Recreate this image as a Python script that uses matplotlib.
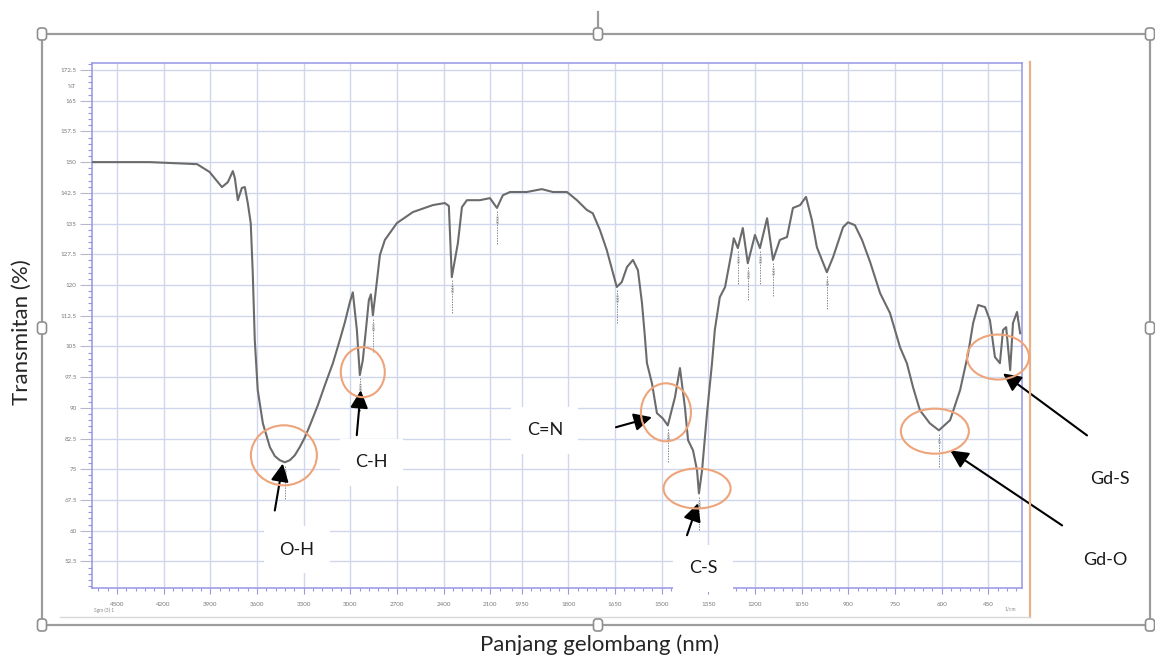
import numpy as np
import matplotlib
matplotlib.use("Agg")
import matplotlib.pyplot as plt
from matplotlib.lines import Line2D
from matplotlib.patches import Ellipse, FancyBboxPatch
from matplotlib.transforms import IdentityTransform
from matplotlib.ticker import FixedLocator, FixedFormatter

plt.rcParams['font.family'] = ['Lato', 'DejaVu Sans']

# ---- FTIR spectrum (wavenumber in 1/cm, transmittance in %) ----
wavenumber = [4660, 4290, 3985, 3905, 3825, 3787, 3755, 3742, 3723, 3697,
              3678, 3659, 3640, 3627, 3614, 3595, 3562, 3517, 3485, 3453,
              3421, 3389, 3357, 3325, 3292, 3260, 3209, 3164, 3112, 3068,
              3035, 3003, 2984, 2958, 2939, 2920, 2900, 2881, 2868, 2855,
              2836, 2810, 2778, 2701, 2598, 2470, 2393, 2367, 2348, 2328,
              2309, 2283, 2251, 2168, 2103, 2058, 2020, 1987, 1933, 1885,
              1849, 1804, 1772, 1740, 1721, 1698, 1676, 1656, 1644, 1628,
              1611, 1592, 1576, 1563, 1554, 1547, 1531, 1515, 1496, 1480,
              1457, 1441, 1425, 1415, 1399, 1386, 1380, 1370, 1354, 1338,
              1329, 1313, 1296, 1274, 1268, 1255, 1239, 1223, 1200, 1184,
              1161, 1142, 1120, 1097, 1078, 1055, 1036, 1017, 1001, 969,
              949, 917, 901, 879, 856, 830, 798, 766, 734, 712,
              692, 670, 638, 609, 573, 541, 515, 499, 483, 461,
              445, 429, 413, 403, 393, 380, 371, 358, 348]
transmittance = [150.0, 150.0, 149.5, 147.6, 143.9, 145.1, 147.8, 146.1, 140.7, 143.7,
                 143.9, 140.0, 135.1, 122.9, 106.5, 94.3, 86.2, 80.4, 78.2, 77.2,
                 76.7, 77.2, 78.4, 80.4, 82.8, 85.7, 90.6, 95.5, 100.9, 106.5,
                 110.9, 115.8, 118.2, 109.0, 98.0, 101.6, 109.0, 116.3, 117.7, 112.6,
                 118.7, 127.3, 131.0, 135.1, 137.8, 139.5, 140.0, 139.3, 121.9, 126.1,
                 130.2, 139.0, 140.7, 140.7, 141.2, 138.8, 141.9, 142.7, 142.7, 143.4,
                 142.7, 142.7, 140.7, 138.3, 137.5, 133.4, 128.5, 122.9, 119.5, 120.7,
                 124.4, 126.1, 123.6, 115.6, 107.7, 100.9, 96.0, 88.7, 87.4, 85.7,
                 92.6, 99.7, 90.1, 82.1, 79.6, 74.7, 69.1, 74.7, 88.7, 100.9,
                 109.0, 117.0, 119.5, 128.5, 131.4, 129.0, 133.9, 125.3, 132.2, 129.0,
                 136.3, 126.1, 131.0, 131.7, 138.8, 139.5, 141.5, 135.8, 129.2, 123.1,
                 126.8, 134.1, 135.3, 134.6, 131.0, 125.6, 118.0, 113.1, 104.8, 100.9,
                 95.0, 89.4, 86.2, 84.5, 87.0, 94.3, 103.3, 110.7, 115.1, 114.6,
                 111.4, 102.4, 100.9, 109.0, 109.7, 99.2, 110.7, 113.4, 108.2]

x_ticks = [4500, 4200, 3900, 3600, 3300, 3000, 2700, 2400, 2100, 1950,
           1800, 1650, 1500, 1350, 1200, 1050, 900, 750, 600, 450]
y_ticks = [172.5, 165, 157.5, 150, 142.5, 135, 127.5, 120, 112.5,
           105, 97.5, 90, 82.5, 75, 67.5, 60, 52.5]

# picked peaks (1/cm)
peak_wn = [3421, 2939, 2855, 2348, 2058, 1644, 1480, 1380, 1255, 1223,
           1184, 1142, 969, 609]

# band assignments: arrow tip and ring centre (wavenumber, %T)
band_labels = ["O-H", "C-H", "C=N", "C-S", "Gd-O", "Gd-S"]
band_tip_wn = [3434, 2933, 1531, 1383, 573, 403]
band_tip_t = [76.4, 94.3, 87.7, 66.7, 79.6, 98.4]
ring_wn = [3427, 2920, 1486, 1386, 622, 419]
ring_t = [78.4, 98.7, 88.9, 70.3, 84.3, 102.4]

# layout / style for the annotations (pixels)
ring_size = [(66, 60), (44, 50), (50, 58), (67, 40), (68, 45), (62, 45)]
tail_off = [(-8, -47), (-4, -45), (-36, -10), (-11, -32), (112, -75), (84, -62)]
label_off = [(14, -86), (11, -72), (-107, -13), (5, -65), (155, -110), (107, -106)]

W, H = 1155, 660
fig = plt.figure(figsize=(W / 100, H / 100), dpi=100)
fig.patch.set_facecolor('white')


def fp(x, y):
    return (x / W, 1 - y / H)


ax_l, ax_r, ax_t, ax_b = 92, 1021.7, 63, 588
ax = fig.add_axes([ax_l / W, 1 - ax_b / H, (ax_r - ax_l) / W, (ax_b - ax_t) / H])


# Shimadzu-style axis: 2x expansion below 2000 1/cm
def fwd(w):
    w = np.asarray(w, dtype=float)
    return np.where(w > 2000, 2000 + (w - 2000) / 2.0, w)


def inv(u):
    u = np.asarray(u, dtype=float)
    return np.where(u > 2000, 2000 + (u - 2000) * 2.0, u)


ax.set_xscale('function', functions=(fwd, inv))
ax.set_xlim(4660, 343)
ax.set_ylim(46.0, 174.2)

grid_c = '#d0d7ec'
axis_c = '#9696e4'
ax.xaxis.set_major_locator(FixedLocator(x_ticks))
ax.xaxis.set_major_formatter(FixedFormatter([str(v) for v in x_ticks]))
x_minor = list(np.arange(2040, 4660, 60)) + list(np.arange(360, 2000, 30))
ax.xaxis.set_minor_locator(FixedLocator(x_minor))
ax.yaxis.set_major_locator(FixedLocator(y_ticks))
ax.yaxis.set_major_formatter(FixedFormatter(['{:g}'.format(v) for v in y_ticks]))
ax.yaxis.set_minor_locator(FixedLocator(list(np.arange(46.5, 174.2, 1.5))))

ax.grid(True, which='major', color=grid_c, lw=1.0, zorder=0)
ax.set_axisbelow(True)
for s in ax.spines.values():
    s.set_color(axis_c)
    s.set_linewidth(1.1)

ax.tick_params(axis='x', which='major', direction='out', length=4, width=0.8,
               color=axis_c, labelsize=4.5, labelcolor='#7a7a7a', pad=6)
ax.tick_params(axis='x', which='minor', direction='out', length=2.5, width=0.8,
               color=axis_c)
ax.tick_params(axis='y', which='major', direction='out', length=9, width=0.8,
               color='#b8b8cc', labelsize=4.5, labelcolor='#7a7a7a', pad=2)
ax.tick_params(axis='y', which='minor', direction='out', length=3, width=0.8,
               color=axis_c)

# spectrum
ax.plot(wavenumber, transmittance, color='#6b6b6b', lw=1.5, zorder=3,
        solid_joinstyle='round')

# peak pick markers
wn_asc = np.array(wavenumber[::-1], dtype=float)
t_asc = np.array(transmittance[::-1], dtype=float)
for p in peak_wn:
    tv = float(np.interp(p, wn_asc, t_asc))
    ax.plot([p, p], [tv - 0.8, tv - 9.0], color='#8a8a8a', lw=0.7,
            ls=(0, (1.5, 1.2)), zorder=2)
    ax.text(p, tv - 1.5, str(p), rotation=90, fontsize=2.6, color='#808080',
            ha='left', va='top', zorder=2)

# axis unit inside tick label column
fig.text(*fp(76, 87), '%T', fontsize=4.2, color='#7a7a7a', ha='right', va='center')
fig.text(*fp(94, 610), 'Sgm (3) 1', fontsize=3.5, color='#8a8a8a', ha='left', va='center')
fig.text(*fp(1016, 609), '1/cm', fontsize=3.5, color='#8a8a8a', ha='right', va='center')

# band assignment rings, arrows and labels
ring_c = '#eea47a'
for i, lab in enumerate(band_labels):
    cx, cy = ax.transData.transform((ring_wn[i], ring_t[i]))
    fig.add_artist(Ellipse((cx, cy), ring_size[i][0], ring_size[i][1],
                           transform=IdentityTransform(), fill=False,
                           ec=ring_c, lw=1.5, zorder=6))
    ax.annotate('', xy=(band_tip_wn[i], band_tip_t[i]), xycoords='data',
                xytext=tail_off[i], textcoords='offset pixels',
                arrowprops=dict(arrowstyle='-|>,head_length=0.9,head_width=0.45',
                                color='black', lw=1.5, shrinkA=0, shrinkB=0,
                                mutation_scale=12),
                annotation_clip=False, zorder=7)
    ax.annotate(lab, xy=(band_tip_wn[i], band_tip_t[i]), xycoords='data',
                xytext=label_off[i], textcoords='offset pixels',
                ha='center', va='center', fontsize=13, color='#1a1a1a',
                bbox=dict(boxstyle='square,pad=0.85', fc='white', ec='none'),
                annotation_clip=False, zorder=5)

# screenshot edges
fig.add_artist(Line2D([1030 / W] * 2, [1 - 62 / H, 1 - 617 / H],
                      color='#ebb08a', lw=1.6, transform=fig.transFigure))
fig.add_artist(Line2D([60 / W, 1030 / W], [1 - 617 / H] * 2,
                      color='#d8d8d8', lw=1.0, transform=fig.transFigure))

# object frame with sizing handles
frame_c = '#9c9c9c'
fx0, fx1, fy0, fy1 = 42, 1150, 34, 625
for xs, ys in [([fx0, fx1], [fy0, fy0]), ([fx0, fx1], [fy1, fy1]),
               ([fx0, fx0], [fy0, fy1]), ([fx1, fx1], [fy0, fy1]),
               ([598, 598], [12, fy0])]:
    fig.add_artist(Line2D([x / W for x in xs], [1 - y / H for y in ys],
                          color=frame_c, lw=1.6, transform=fig.transFigure))
for hx, hy in [(fx0, fy0), (598, fy0), (fx1, fy0), (fx0, 328), (fx1, 328),
               (fx0, fy1), (598, fy1), (fx1, fy1)]:
    fig.add_artist(FancyBboxPatch((hx - 4.5, H - hy - 6), 9, 12,
                                  boxstyle='round,pad=0,rounding_size=3',
                                  transform=IdentityTransform(),
                                  fc='white', ec='#8f8f8f', lw=1.2, zorder=10))

fig.text(*fp(22, 332), 'Transmitan (%)', rotation=90, fontsize=16,
         color='#262626', ha='center', va='center')
fig.text(*fp(600, 645), 'Panjang gelombang (nm)', fontsize=16,
         color='#262626', ha='center', va='center')

fig.savefig('out.png', dpi=100, facecolor='white')
